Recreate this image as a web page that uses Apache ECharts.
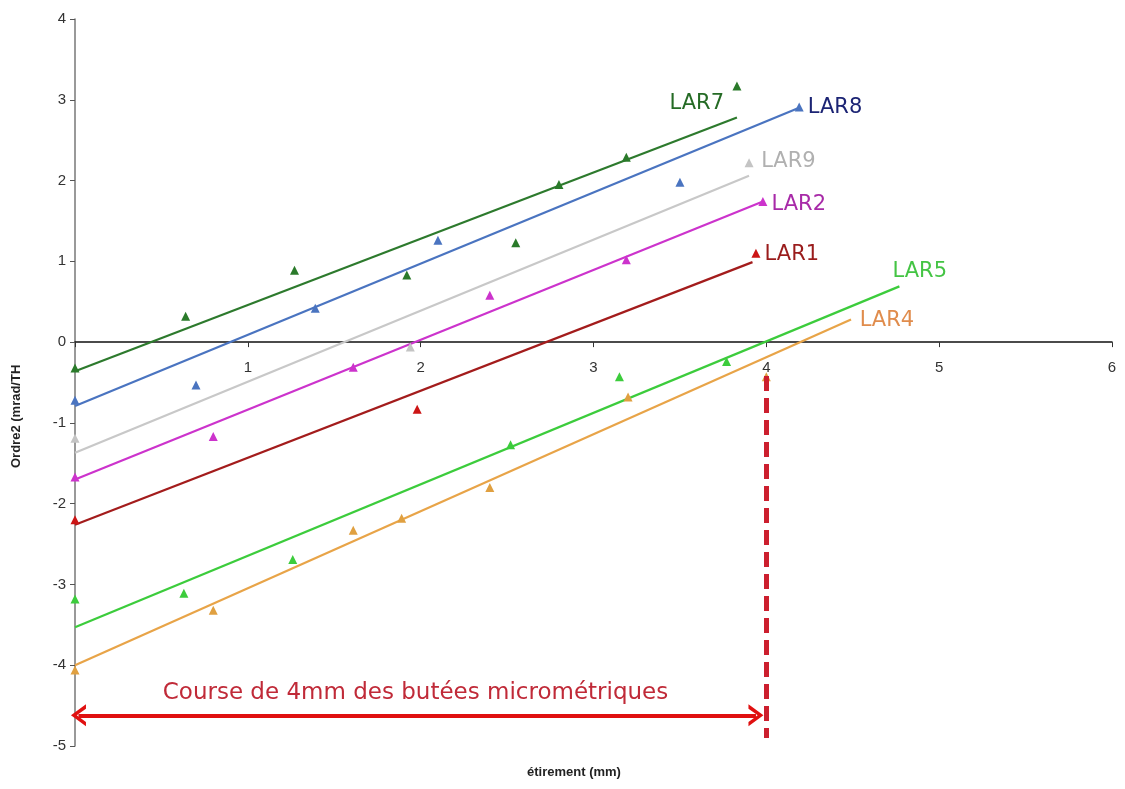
<!DOCTYPE html>
<html>
<head>
<meta charset="utf-8">
<script src="https://cdn.jsdelivr.net/npm/echarts@6/dist/echarts.min.js"></script>
<style>html,body{margin:0;padding:0;background:#fff;}#chart{width:1125px;height:789px;}</style>
</head>
<body>
<div id="chart"></div>
<script>
// ---- data ----
const seriesNames = ['LAR7', 'LAR8', 'LAR9', 'LAR2', 'LAR1', 'LAR5', 'LAR4'];

const lar7X = [0, 0.64, 1.27, 1.92, 2.55, 2.8, 3.19, 3.83];
const lar7Y = [-0.32, 0.32, 0.89, 0.83, 1.23, 1.95, 2.29, 3.17];
const lar8X = [0, 0.7, 1.39, 2.1, 3.5, 4.19];
const lar8Y = [-0.72, -0.53, 0.42, 1.26, 1.98, 2.91];
const lar9X = [0, 1.94, 3.9];
const lar9Y = [-1.19, -0.06, 2.22];
const lar2X = [0, 0.8, 1.61, 2.4, 3.19, 3.98];
const lar2Y = [-1.67, -1.17, -0.31, 0.58, 1.02, 1.74];
const lar1X = [0, 1.98, 3.94];
const lar1Y = [-2.2, -0.83, 1.1];
const lar5X = [0, 0.63, 1.26, 2.52, 3.15, 3.77];
const lar5Y = [-3.18, -3.11, -2.69, -1.27, -0.43, -0.24];
const lar4X = [0, 0.8, 1.61, 1.89, 2.4, 3.2, 4.0];
const lar4Y = [-4.06, -3.32, -2.33, -2.18, -1.8, -0.68, -0.43];

// linear trend lines: [x0, y0, x1, y1]
const lar7Fit = [0, -0.36, 3.83, 2.78];
const lar8Fit = [0, -0.79, 4.19, 2.9];
const lar9Fit = [0, -1.37, 3.9, 2.06];
const lar2Fit = [0, -1.7, 3.98, 1.74];
const lar1Fit = [0, -2.26, 3.92, 0.99];
const lar5Fit = [0, -3.53, 4.77, 0.69];
const lar4Fit = [0, -4.0, 4.49, 0.28];

const xTicks = [0, 1, 2, 3, 4, 5, 6];
const yTicks = [-5, -4, -3, -2, -1, 0, 1, 2, 3, 4];

const courseMm = 4;
const annotationText = 'Course de 4mm des butées micrométriques';
const xTitle = 'étirement (mm)';
const yTitle = 'Ordre2 (mrad/TH';

// ---- styling ----
const pts = {LAR7:[lar7X,lar7Y], LAR8:[lar8X,lar8Y], LAR9:[lar9X,lar9Y], LAR2:[lar2X,lar2Y], LAR1:[lar1X,lar1Y], LAR5:[lar5X,lar5Y], LAR4:[lar4X,lar4Y]};
const fits = {LAR7:lar7Fit, LAR8:lar8Fit, LAR9:lar9Fit, LAR2:lar2Fit, LAR1:lar1Fit, LAR5:lar5Fit, LAR4:lar4Fit};
const style = {
  LAR7:{line:'#2d7a2d', mark:'#2a7a2a', label:'#256b25', lx:3.44, ly:2.95},
  LAR8:{line:'#4a74c0', mark:'#4a74c0', label:'#1c2474', lx:4.24, ly:2.91},
  LAR9:{line:'#c8c8c8', mark:'#c4c4c4', label:'#b0b0b0', lx:3.97, ly:2.24},
  LAR2:{line:'#cc33cc', mark:'#cc33cc', label:'#a82aa8', lx:4.03, ly:1.70},
  LAR1:{line:'#a31c1c', mark:'#cc1515', label:'#9a1c1c', lx:3.99, ly:1.08},
  LAR5:{line:'#3ccc3c', mark:'#3ccc3c', label:'#44c444', lx:4.73, ly:0.87},
  LAR4:{line:'#e8a448', mark:'#e0a040', label:'#e08c4c', lx:4.54, ly:0.27}
};
const labelFont = 'DejaVu Sans';

const series = [];
seriesNames.forEach(function (n) {
  const f = fits[n];
  series.push({
    type: 'line', name: n + ' fit', data: [[f[0], f[1]], [f[2], f[3]]],
    showSymbol: false, symbol: 'none', silent: true,
    lineStyle: {color: style[n].line, width: 2.2}, z: 3
  });
  series.push({
    type: 'scatter', name: n,
    data: pts[n][0].map(function (x, i) { return [x, pts[n][1][i]]; }),
    symbol: 'triangle', symbolSize: 9,
    itemStyle: {color: style[n].mark, opacity: 1}, z: 4
  });
  series.push({
    type: 'scatter', name: n + ' label', data: [[style[n].lx, style[n].ly]],
    symbolSize: 0, silent: true, z: 5, itemStyle: {opacity: 1},
    label: {show: true, position: 'right', distance: 0, formatter: n,
      color: style[n].label, fontSize: 21, fontFamily: labelFont}
  });
});

// annotation: dashed vertical at 4 mm, double arrow, text
const chevron = 'path://M10,0 L20,13 L16,13 L10,5 L4,13 L0,13 Z';
series.push({
  type: 'line', data: [], silent: true,
  markLine: {
    silent: true, animation: false,
    label: {show: false},
    data: [
      [{coord: [courseMm, -0.42], symbol: 'none'}, {coord: [courseMm, -4.9], symbol: 'none',
        lineStyle: {color: '#cc1f2e', width: 5, type: [15, 7]}}],
      [{coord: [0.02, -4.62], symbol: chevron, symbolSize: [22, 15]},
       {coord: [3.94, -4.62], symbol: chevron, symbolSize: [22, 15],
        lineStyle: {color: '#e01010', width: 4, type: 'solid'}}]
    ],
    lineStyle: {color: '#e01010', width: 4, type: 'solid'}
  }
});
series.push({
  type: 'scatter', data: [[1.97, -4.35]], symbolSize: 0, silent: true, itemStyle: {opacity: 1},
  label: {show: true, position: 'inside', formatter: annotationText,
    color: '#c02a38', fontSize: 23, fontFamily: labelFont}
});

// place x axis so that it crosses y = 0 (line, ticks and labels together)
const gridTop = 19, gridBottom = 43, chartH = 789;
const plotH = chartH - gridTop - gridBottom;
const yMin = yTicks[0], yMax = yTicks[yTicks.length - 1];
const zeroFromBottom = plotH * (0 - yMin) / (yMax - yMin);

const chart = echarts.init(document.getElementById('chart'));
chart.setOption({
  animation: false,
  backgroundColor: '#fff',
  grid: {left: 75, right: 13, top: gridTop, bottom: gridBottom, containLabel: false},
  xAxis: {
    type: 'value', min: xTicks[0], max: xTicks[xTicks.length - 1], interval: 1,
    position: 'bottom', offset: -zeroFromBottom,
    axisLine: {onZero: false, lineStyle: {color: '#111', width: 1.5}},
    axisTick: {show: true, inside: false, length: 5, lineStyle: {color: '#333'}},
    axisLabel: {margin: 18, color: '#333', fontSize: 15, fontFamily: 'Liberation Sans',
      formatter: function (v) { return v === 0 ? '' : String(v); }},
    splitLine: {show: false}
  },
  yAxis: {
    type: 'value', min: yMin, max: yMax, interval: 1,
    axisLine: {onZero: false, lineStyle: {color: '#777', width: 1.5}},
    axisTick: {show: true, length: 5, lineStyle: {color: '#555'}},
    axisLabel: {margin: 9, color: '#333', fontSize: 15, fontFamily: 'Liberation Sans'},
    splitLine: {show: false}
  },
  graphic: [
    {type: 'text', left: 527, top: 766, style: {text: xTitle, fontSize: 13, fontWeight: 'bold', fill: '#222', fontFamily: 'Liberation Sans'}},
    {type: 'text', x: 10, y: 468, rotation: Math.PI / 2, style: {text: yTitle, fontSize: 13, fontWeight: 'bold', fill: '#222', fontFamily: 'Liberation Sans'}}
  ],
  series: series
});
</script>
</body>
</html>
